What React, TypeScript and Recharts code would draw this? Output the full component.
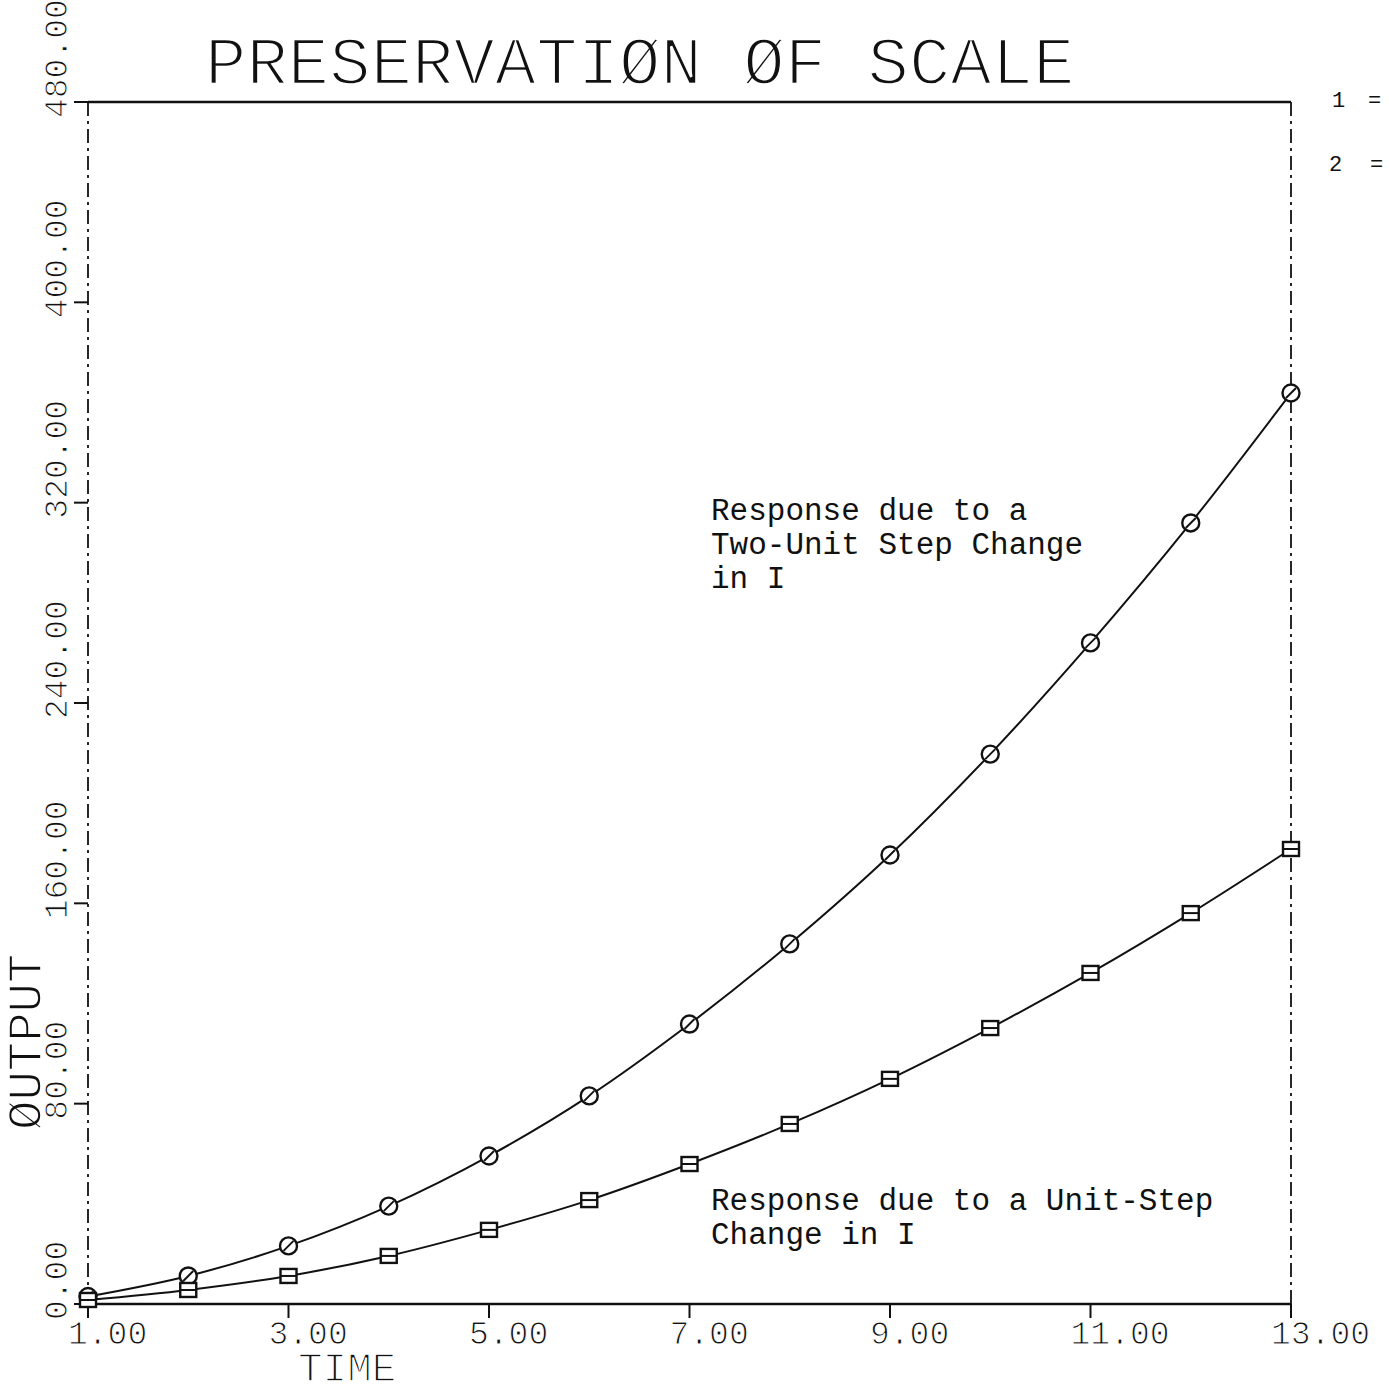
import React from "react";
import { LineChart, Line, XAxis, YAxis, ReferenceLine, Customized } from "recharts";

// time steps and the two responses
const TIME = [1, 2, 3, 4, 5, 6, 7, 8, 9, 10, 11, 12, 13];
const TWO_UNIT_STEP = [3, 11.2, 23.2, 39.1, 59.1, 83.1, 111.8, 143.8, 179.3, 219.6, 264, 311.9, 363.8];
const UNIT_STEP = [1.6, 5.6, 11.2, 19.2, 29.6, 41.5, 55.9, 71.9, 89.9, 110.2, 132.2, 156.1, 181.7];

const X_TICKS = [1, 3, 5, 7, 9, 11, 13];
const Y_TICKS = [0, 80, 160, 240, 320, 400, 480];

const data = TIME.map((t, i) => ({ time: t, two: TWO_UNIT_STEP[i], unit: UNIT_STEP[i] }));

const INK = "#111";
const PLOT_FONT = "'Liberation Mono', 'DejaVu Sans Mono', monospace";
const DASH_DOT = "14 5 3 5";

// white outline painted over the glyphs thins them to a pen-plotter stroke
const thin = (w: number) => ({ stroke: "#fff", strokeWidth: w, paintOrder: "fill" as const });

const XTick = (props: any) => {
  const { x, payload } = props;
  return (
    <text x={x - 20} y={1344} fontFamily={PLOT_FONT} fontSize={33} fill={INK} textAnchor="start" {...thin(1)}>
      {payload.value.toFixed(2)}
    </text>
  );
};

const YTick = (props: any) => {
  const { y, payload } = props;
  return (
    <text
      transform={`translate(67, ${y + 16}) rotate(-90)`}
      fontFamily={PLOT_FONT}
      fontSize={33}
      fill={INK}
      textAnchor="start"
      {...thin(1)}
    >
      {payload.value.toFixed(2)}
    </text>
  );
};

// circle marker with a slash through it
const CircleDot = (props: any) => {
  const { cx, cy } = props;
  if (cx == null || cy == null) return null;
  return (
    <g key={`c-${cx}-${cy}`}>
      <circle cx={cx} cy={cy} r={8.5} fill="#fff" stroke={INK} strokeWidth={2.4} />
      <line x1={cx - 5} y1={cy + 5} x2={cx + 5} y2={cy - 5} stroke={INK} strokeWidth={2} />
    </g>
  );
};

// square marker with a bar across it
const SquareDot = (props: any) => {
  const { cx, cy } = props;
  if (cx == null || cy == null) return null;
  return (
    <g key={`s-${cx}-${cy}`}>
      <rect x={cx - 8} y={cy - 7} width={16} height={14} fill="#fff" stroke={INK} strokeWidth={2.4} />
      <line x1={cx - 8} y1={cy} x2={cx + 8} y2={cy} stroke={INK} strokeWidth={2} />
    </g>
  );
};

const Annotations = () => (
  <g fontFamily={PLOT_FONT} fill={INK}>
    <text x={205} y={84} fontSize={69} {...thin(2.4)}>
      PRESERVATIØN ØF SCALE
    </text>
    <text x={298} y={1381} fontSize={41} {...thin(1.6)}>
      TIME
    </text>
    <text transform="translate(41, 1130) rotate(-90)" fontSize={49} {...thin(1.6)}>
      ØUTPUT
    </text>
    <g fontSize={31}>
      <text x={711} y={520}>Response due to a</text>
      <text x={711} y={554}>Two-Unit Step Change</text>
      <text x={711} y={588}>in I</text>
      <text x={711} y={1210}>Response due to a Unit-Step</text>
      <text x={711} y={1244}>Change in I</text>
    </g>
    <g fontSize={22}>
      <text x={1332} y={107}>1</text>
      <text x={1368} y={107}>=</text>
      <text x={1329} y={171}>2</text>
      <text x={1370} y={171}>=</text>
    </g>
  </g>
);

export default function App() {
  return (
    <div style={{ position: "absolute", left: 0, top: 0, background: "#fff" }}>
      <LineChart
        width={1389}
        height={1394}
        data={data}
        margin={{ top: 102, right: 98, bottom: 0, left: 0 }}
      >
        <XAxis
          dataKey="time"
          type="number"
          domain={[1, 13]}
          ticks={X_TICKS}
          interval={0}
          height={90}
          tickSize={14}
          axisLine={{ stroke: INK, strokeWidth: 2.5 }}
          tickLine={{ stroke: INK, strokeWidth: 2 }}
          tick={<XTick />}
        />
        <YAxis
          type="number"
          domain={[0, 480]}
          ticks={Y_TICKS}
          interval={0}
          width={88}
          tickSize={14}
          axisLine={{ stroke: INK, strokeWidth: 1.8, strokeDasharray: DASH_DOT }}
          tickLine={{ stroke: INK, strokeWidth: 2 }}
          tick={<YTick />}
        />
        <ReferenceLine y={480} stroke={INK} strokeWidth={2.5} />
        <ReferenceLine x={13} stroke={INK} strokeWidth={1.8} strokeDasharray={DASH_DOT} />
        <Line
          type="monotone"
          dataKey="two"
          stroke={INK}
          strokeWidth={2}
          dot={<CircleDot />}
          activeDot={false}
          isAnimationActive={false}
        />
        <Line
          type="monotone"
          dataKey="unit"
          stroke={INK}
          strokeWidth={2}
          dot={<SquareDot />}
          activeDot={false}
          isAnimationActive={false}
        />
        <Customized component={Annotations} />
      </LineChart>
    </div>
  );
}
